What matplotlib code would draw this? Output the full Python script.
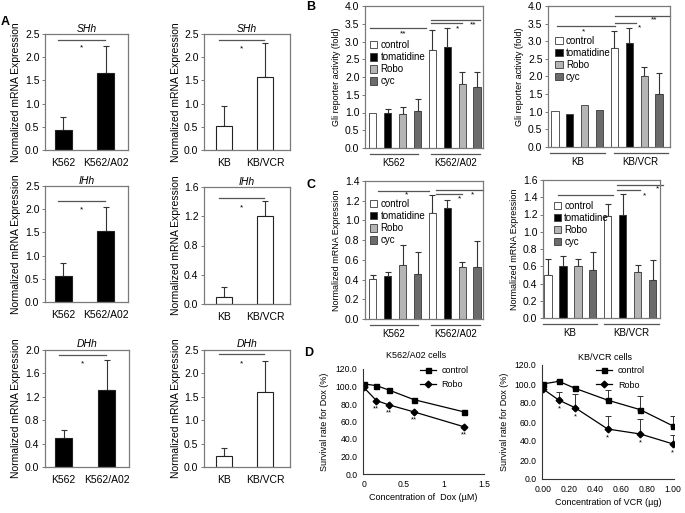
import matplotlib
matplotlib.use("Agg")
import matplotlib.pyplot as plt
import numpy as np
from matplotlib.patches import Patch
from matplotlib.lines import Line2D

plt.rcParams["font.family"] = ["Liberation Sans", "DejaVu Sans"]

W, H = 685, 513
SPINE = "#7a7a7a"

# ---- A: Hh ligand mRNA
k562_cells = ["K562", "K562/A02"]
kb_cells = ["KB", "KB/VCR"]

shh_k562 = [0.44, 1.67]
shh_k562_err = [0.27, 0.57]
shh_kb = [0.51, 1.57]
shh_kb_err = [0.43, 0.73]

ihh_k562 = [0.57, 1.52]
ihh_k562_err = [0.26, 0.53]
ihh_kb = [0.10, 1.21]
ihh_kb_err = [0.13, 0.20]

dhh_k562 = [0.49, 1.31]
dhh_k562_err = [0.15, 0.52]
dhh_kb = [0.245, 1.61]
dhh_kb_err = [0.165, 0.66]

# ---- B / C: treatments, rows = cell line, cols = treatment
treatments = ["control", "tomatidine", "Robo", "cyc"]
treat_colors = ["white", "black", "#b5b5b5", "#6b6b6b"]

gli_k562 = [[1.00, 0.98, 0.97, 1.05], [2.75, 2.84, 1.80, 1.71]]
gli_k562_err = [[0.00, 0.12, 0.18, 0.33], [0.57, 0.54, 0.33, 0.44]]
gli_kb = [[1.01, 0.93, 1.18, 1.06], [2.82, 2.94, 2.00, 1.49]]
gli_kb_err = [[0.00, 0.00, 0.00, 0.00], [0.46, 0.43, 0.26, 0.61]]

mrna_k562 = [[0.41, 0.44, 0.55, 0.46], [1.08, 1.13, 0.53, 0.53]]
mrna_k562_err = [[0.04, 0.04, 0.20, 0.22], [0.18, 0.08, 0.05, 0.26]]
mrna_kb = [[0.50, 0.60, 0.60, 0.56], [1.18, 1.19, 0.53, 0.44]]
mrna_kb_err = [[0.18, 0.12, 0.08, 0.20], [0.14, 0.25, 0.08, 0.23]]

# ---- D: survival
dox_conc = [0, 0.156, 0.3125, 0.625, 1.25]
dox_control = [103, 101, 96, 85, 71]
dox_robo = [99, 84, 79, 71, 54]
vcr_conc = [0, 0.125, 0.25, 0.5, 0.75, 1.0]
vcr_control = [100, 102.8, 95.4, 83, 73, 56]
vcr_control_err = [0, 1.8, 2.8, 10.3, 14, 10.7]
vcr_robo = [95, 83, 75, 52.6, 47.4, 37]
vcr_robo_err = [0, 9, 14.5, 14, 15.6, 9]


def add_ax(fig, x0, y0, x1, y1):
    # pixel box -> figure fraction
    return fig.add_axes([x0 / W, 1 - y1 / H, (x1 - x0) / W, (y1 - y0) / H])


def style_box(ax, fs):
    for s in ax.spines.values():
        s.set_color(SPINE)
        s.set_linewidth(0.9)
    ax.tick_params(axis="y", length=2, width=0.7, color=SPINE, labelsize=fs, pad=2)
    ax.tick_params(axis="x", length=0, labelsize=fs)


def hh_panel(fig, box, cells, vals, errs, ymax, ystep, title, title_pad, filled,
             sig_y, star_y, xlim, ylab_x):
    ax = add_ax(fig, *box)
    x = np.arange(len(cells))
    ax.bar(x, vals, width=0.4, color="black" if filled else "white",
           edgecolor="#222222", linewidth=0.8, zorder=2)
    ax.errorbar(x, vals, yerr=[np.zeros(len(vals)), errs], fmt="none",
                ecolor="#333333", elinewidth=0.8, capsize=2.5, capthick=0.8, zorder=1)
    ax.set_xlim(*xlim)
    ax.set_ylim(0, ymax)
    ax.set_yticks(np.arange(0, ymax + 1e-9, ystep))
    ax.set_yticklabels([f"{v:.1f}" for v in np.arange(0, ymax + 1e-9, ystep)])
    ax.set_xticks(x)
    ax.set_xticklabels(cells)
    style_box(ax, 7.5)
    ax.tick_params(axis="x", pad=6)
    ax.set_title(title, style="italic", fontsize=7.5, pad=title_pad)
    ax.set_ylabel("Normalized mRNA Expression", fontsize=7.5)
    ax.yaxis.set_label_coords(ylab_x, 0.5)
    ax.plot([-0.12, 0.98], [sig_y, sig_y], color="#555555", lw=0.9)
    ax.text(0.43, star_y, "*", ha="center", va="center", fontsize=6)
    return ax


def treat_panel(fig, box, groups, vals, errs, ymax, ystep, xlim, ylabel,
                ylab_x, leg_anchor, group_lines, sig_lines, stars):
    ax = add_ax(fig, *box)
    h_px = box[3] - box[1]
    vals = np.asarray(vals)
    errs = np.asarray(errs)
    for g in range(len(groups)):
        for t in range(len(treatments)):
            xpos = g * 4 + t
            ax.bar(xpos, vals[g, t], width=0.48, color=treat_colors[t],
                   edgecolor="#3a3a3a", linewidth=0.6, zorder=2)
            if errs[g, t] > 0:
                ax.errorbar(xpos, vals[g, t], yerr=[[0], [errs[g, t]]], fmt="none",
                            ecolor="#333333", elinewidth=0.8, capsize=2.2,
                            capthick=0.8, zorder=1)
    ax.set_xlim(*xlim)
    ax.set_ylim(0, ymax)
    ticks = np.arange(0, ymax + 1e-9, ystep)
    ax.set_yticks(ticks)
    ax.set_yticklabels([f"{v:.1f}" for v in ticks])
    ax.set_xticks([])
    style_box(ax, 7.5)
    ax.set_ylabel(ylabel, fontsize=6.5)
    ax.yaxis.set_label_coords(ylab_x, 0.5)

    handles = [Patch(facecolor=c, edgecolor="#3a3a3a", linewidth=0.6) for c in treat_colors]
    ax.legend(handles, treatments, loc="upper left", bbox_to_anchor=leg_anchor,
              frameon=False, fontsize=7, handlelength=0.8, handleheight=0.8,
              handletextpad=0.3, labelspacing=0.22, borderpad=0, borderaxespad=0)

    tr = ax.get_xaxis_transform()
    for name, (x0, x1) in zip(groups, group_lines):
        ax.plot([x0, x1], [-6 / h_px] * 2, transform=tr, color="#555555",
                lw=0.9, clip_on=False)
        ax.text((x0 + x1) / 2, -15 / h_px, name, transform=tr, ha="center",
                va="center", fontsize=7)
    for x0, x1, y in sig_lines:
        ax.plot([x0, x1], [y, y], color="#555555", lw=0.9, clip_on=False)
    for x, y, s in stars:
        ax.text(x, y, s, ha="center", va="center", fontsize=6)
    return ax


def survival_panel(fig, box, conc, ctrl, robo, ctrl_err, robo_err, xlim,
                   xticks, xticklabels, xlabel, title, title_y, star, ylab_x,
                   leg_anchor):
    ax = add_ax(fig, *box)
    if ctrl_err is not None:
        ax.errorbar(conc, ctrl, yerr=[np.zeros(len(ctrl)), ctrl_err], fmt="none",
                    ecolor="#333333", elinewidth=0.7, capsize=2, capthick=0.7)
        ax.errorbar(conc, robo, yerr=[np.zeros(len(robo)), robo_err], fmt="none",
                    ecolor="#333333", elinewidth=0.7, capsize=2, capthick=0.7)
    l1, = ax.plot(conc, ctrl, color="black", lw=0.9, marker="s", ms=3.6,
                  label="control")
    l2, = ax.plot(conc, robo, color="black", lw=0.9, marker="D", ms=3.4,
                  label="Robo")
    for xc, yr in zip(conc[1:], robo[1:]):
        ax.text(xc, yr - 9.5, star, ha="center", va="center", fontsize=5.5)
    ax.set_xlim(*xlim)
    ax.set_ylim(0, 120)
    ax.set_yticks(np.arange(0, 121, 20))
    ax.set_yticklabels([f"{v:.1f}" for v in np.arange(0, 121, 20)])
    ax.set_xticks(xticks)
    ax.set_xticklabels(xticklabels)
    for side in ["top", "right"]:
        ax.spines[side].set_visible(False)
    for side in ["left", "bottom"]:
        ax.spines[side].set_color("#333333")
        ax.spines[side].set_linewidth(0.8)
    ax.tick_params(length=0, labelsize=6.2, pad=4)
    ax.set_xlabel(xlabel, fontsize=6.5, labelpad=3)
    ax.set_ylabel("Survival rate for Dox (%)", fontsize=6.5)
    ax.yaxis.set_label_coords(ylab_x, 0.5)
    fig.text(title[1] / W, 1 - title_y / H, title[0], ha="center", va="center",
             fontsize=6.5)
    ax.legend([l1, l2], ["control", "Robo"], loc="upper left",
              bbox_to_anchor=leg_anchor, frameon=False, fontsize=6.5,
              handlelength=1.8, handletextpad=0.6, labelspacing=0.6,
              borderpad=0, borderaxespad=0)
    return ax


fig = plt.figure(figsize=(W / 100, H / 100), dpi=100)

# A
hh_panel(fig, (45, 34, 128, 150), k562_cells, shh_k562, shh_k562_err, 2.5, 0.5,
         "SHh", 1.5, True, 2.38, 2.2, (-0.435, 1.52), -0.29)
hh_panel(fig, (204, 34, 290, 150), kb_cells, shh_kb, shh_kb_err, 2.5, 0.5,
         "SHh", 1.5, False, 2.38, 2.17, (-0.49, 1.61), -0.27)
hh_panel(fig, (45, 186, 128, 302), k562_cells, ihh_k562, ihh_k562_err, 2.5, 0.5,
         "IHh", -1.5, True, 2.17, 1.98, (-0.435, 1.52), -0.29)
hh_panel(fig, (204, 187, 290, 304), kb_cells, ihh_kb, ihh_kb_err, 1.6, 0.4,
         "IHh", -1.5, False, 1.45, 1.32, (-0.49, 1.61), -0.27)
hh_panel(fig, (45, 350, 129, 467), k562_cells, dhh_k562, dhh_k562_err, 2.0, 0.4,
         "DHh", 2, True, 1.91, 1.77, (-0.435, 1.52), -0.29)
hh_panel(fig, (204, 350, 290, 467), kb_cells, dhh_kb, dhh_kb_err, 2.5, 0.5,
         "DHh", 2, False, 2.41, 2.21, (-0.49, 1.61), -0.27)

# B
treat_panel(fig, (365, 6, 483, 148), k562_cells, gli_k562, gli_k562_err, 4.0, 0.5,
            (-0.53, 7.4), "Gli reporter activity (fold)", -0.20, (0.04, 0.76),
            [(-0.2, 3.0), (3.93, 7.2)],
            [(-0.2, 3.6, 3.37), (3.93, 7.2, 3.60), (3.93, 6.0, 3.51)],
            [(2.0, 3.22, "**"), (5.67, 3.36, "*"), (6.73, 3.48, "**")])
treat_panel(fig, (548, 6, 670, 147), kb_cells, gli_kb, gli_kb_err, 4.0, 0.5,
            (-0.47, 7.74), "Gli reporter activity (fold)", -0.20, (0.06, 0.79),
            [(-0.34, 3.36), (3.96, 7.58)],
            [(0.13, 4.03, 3.42), (4.03, 7.74, 3.73), (4.03, 5.43, 3.53)],
            [(1.95, 3.27, "*"), (5.7, 3.38, "*"), (6.7, 3.6, "**")])

# C
treat_panel(fig, (365, 181, 483, 319), k562_cells, mrna_k562, mrna_k562_err, 1.4, 0.2,
            (-0.53, 7.4), "Normalized mRNA Expression", -0.20, (0.04, 0.87),
            [(-0.2, 3.0), (3.93, 7.2)],
            [(0.33, 3.8, 1.30), (4.27, 7.4, 1.31), (4.27, 6.0, 1.265)],
            [(2.27, 1.26, "*"), (5.8, 1.22, "*"), (6.67, 1.26, "*")])
treat_panel(fig, (543, 180, 660, 318), kb_cells, mrna_kb, mrna_kb_err, 1.6, 0.2,
            (-0.34, 7.5), "Normalized mRNA Expression", -0.205, (0.09, 0.85),
            [(-0.34, 3.3), (3.76, 7.45)],
            [(0.67, 4.36, 1.43), (4.63, 7.7, 1.54), (4.63, 6.17, 1.48)],
            [(6.44, 1.41, "*"), (7.3, 1.5, "*")])

# D
survival_panel(fig, (363, 369, 484, 474), dox_conc, dox_control, dox_robo, None, None,
               (-0.01, 1.5), [0, 0.5, 1, 1.5], ["0", "0.5", "1", "1.5"],
               "Concentration of  Dox (\u00b5M)", ("K562/A02 cells", 416), 355,
               "**", -0.28, (0.47, 1.03))
survival_panel(fig, (542, 365, 674, 479), vcr_conc, vcr_control, vcr_robo,
               vcr_control_err, vcr_robo_err, (-0.005, 1.01),
               [0, 0.2, 0.4, 0.6, 0.8, 1.0],
               ["0.00", "0.20", "0.40", "0.60", "0.80", "1.00"],
               "Concentration of VCR (\u00b5g)", ("KB/VCR cells", 605), 357,
               "*", -0.25, (0.41, 0.99))

# panel letters
for letter, (px, py) in zip("ABCD", [(5, 22), (311, 7), (311, 185), (309, 353)]):
    fig.text(px / W, 1 - py / H, letter, ha="center", va="center",
             fontsize=9, fontweight="bold")

fig.savefig("out.png", dpi=100)
